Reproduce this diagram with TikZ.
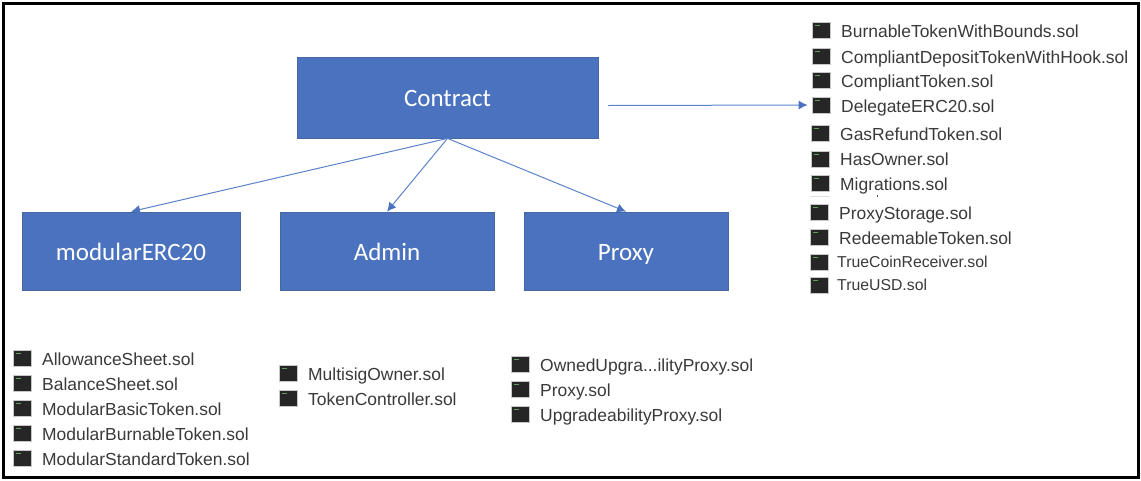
\documentclass[tikz,border=0pt]{standalone}
\usepackage{fontspec}
\setmainfont{Liberation Sans}
\newfontfamily\boxfont{Carlito}
\usetikzlibrary{arrows.meta}
\definecolor{boxblue}{HTML}{4A72BE}
\definecolor{boxedge}{HTML}{44689F}
\definecolor{linkblue}{HTML}{5B83C9}
\definecolor{filetext}{HTML}{3A3A3A}
\definecolor{termgreen}{HTML}{5F9E5F}
\newcommand\ownedname{OwnedUpgra...ilityProxy.sol}
\newcommand\smallfile[1]{{\fontsize{15.8}{20}\selectfont #1}}
\tikzset{
  x=1pt,y=-1pt,
  bluebox/.style={draw=boxedge,line width=0.8pt,fill=boxblue,text=white,inner sep=0pt,text height=22pt,text depth=4pt,font=\boxfont\fontsize{25}{29}\selectfont},
  link/.style={draw=linkblue,line width=1pt,-{Latex[length=9pt,width=9pt,color=boxblue]}},
  fileicon/.style={draw=black!22,line width=0.8pt,fill=black!85,inner sep=0pt,minimum width=18pt,minimum height=16pt,
    path picture={\fill[termgreen] ([shift={(3pt,-3pt)}]path picture bounding box.north west) rectangle +(5pt,-1.4pt);}},
  filename/.style={anchor=base west,inner sep=0pt,text=filetext,font=\fontsize{17.45}{20}\selectfont},
}
\begin{document}
\begin{tikzpicture}
\useasboundingbox (0,0) rectangle (1141,480);
\fill[white] (0,0) rectangle (1141,480);
\draw[black,line width=3pt] (3,3) rectangle (1138,477);

\node[bluebox,minimum width=301pt,minimum height=81pt] (contract) at (447.5,97.5) {Contract};
\node[bluebox,minimum width=218pt,minimum height=78pt] (modular) at (131,251) {modularERC20};
\node[bluebox,minimum width=214pt,minimum height=78pt] (admin) at (387,251) {Admin};
\node[bluebox,minimum width=204pt,minimum height=78pt] (proxy) at (626,251) {Proxy};

\foreach \nm/\ix/\iy/\tx/\ty/\lab in {
  f1/821/30/841/37/BurnableTokenWithBounds.sol,
  f2/821/56/841/63/CompliantDepositTokenWithHook.sol,
  f3/821/80/841/87/CompliantToken.sol,
  f4/821/105/841/112/DelegateERC20.sol,
  f5/820/133/840/140/GasRefundToken.sol,
  f6/820/159/840/165/HasOwner.sol,
  f7/820/183/840/190/Migrations.sol,
  f8/819/212/839/219/ProxyStorage.sol,
  f9/819/237/839/244/RedeemableToken.sol,
  f10/819/262/837/267/\smallfile{TrueCoinReceiver.sol},
  f11/819/285/837/290/\smallfile{TrueUSD.sol},
  a1/22/358/42/365/AllowanceSheet.sol,
  a2/22/383/42/390/BalanceSheet.sol,
  a3/22/408/42/415/ModularBasicToken.sol,
  a4/22/433/42/440/ModularBurnableToken.sol,
  a5/22/458/42/465/ModularStandardToken.sol,
  b1/288/373/308/380/MultisigOwner.sol,
  b2/288/398/308/405/TokenController.sol,
  c1/520/364/540/371/\ownedname,
  c2/520/389/540/396/Proxy.sol,
  c3/520/414/540/421/UpgradeabilityProxy.sol}
{
  \node[fileicon] (\nm i) at (\ix,\iy) {};
  \node[filename] (\nm t) at (\tx,\ty) {\lab};
}

\draw[link] (contract.south) -- (modular.north);
\draw[link] (contract.south) -- (admin.north);
\draw[link] (contract.south) -- (proxy.north);
\coordinate (delegatefrom) at (608,105.5);
\draw[link,shorten >=4pt] (delegatefrom) -- (f4i.west);

% small scan artefacts under Migrations.sol
\draw[black!12,line width=0.8pt] (810,196) -- (830,196);
\fill[black!70] (876.5,195) rectangle +(1.2,2.2);
\end{tikzpicture}
\end{document}
